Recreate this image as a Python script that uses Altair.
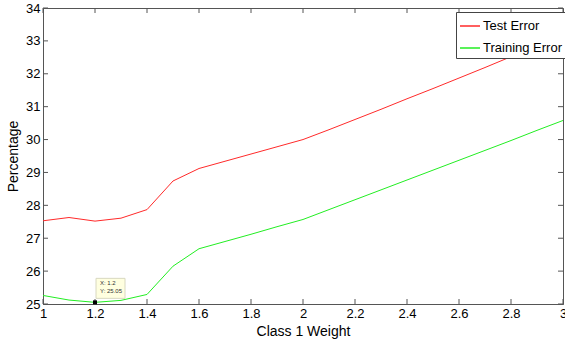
import altair as alt
import pandas as pd

weights = [1.0, 1.1, 1.2, 1.3, 1.4, 1.5, 1.6, 1.7, 1.8, 1.9, 2.0,
           2.1, 2.2, 2.3, 2.4, 2.5, 2.6, 2.7, 2.8, 2.9, 3.0]
test_error = [27.53, 27.63, 27.52, 27.61, 27.87, 28.74, 29.12, 29.34, 29.56, 29.78, 30.0,
              30.3, 30.61, 30.92, 31.24, 31.55, 31.87, 32.19, 32.52, 32.86, 33.2]
train_error = [25.26, 25.12, 25.05, 25.11, 25.29, 26.15, 26.68, 26.9, 27.12, 27.35, 27.57,
               27.87, 28.17, 28.47, 28.77, 29.07, 29.37, 29.67, 29.97, 30.28, 30.58]

x_ticks = [1.0, 1.2, 1.4, 1.6, 1.8, 2.0, 2.2, 2.4, 2.6, 2.8, 3.0]
y_ticks = [25, 26, 27, 28, 29, 30, 31, 32, 33, 34]
tip_x = [1.2]
tip_y = [25.05]

series = ["Test Error", "Training Error"]
colors = ["#ff2a2a", "#22ee22"]

W, H = 520, 296
FONT = "Liberation Sans"

rows = []
for w, t, tr in zip(weights, test_error, train_error):
    rows.append({"w": w, "v": t, "s": series[0]})
    rows.append({"w": w, "v": tr, "s": series[1]})
df = pd.DataFrame(rows)

xs = alt.Scale(domain=[1, 3], nice=False, zero=False)
ys = alt.Scale(domain=[25, 34], nice=False, zero=False)
xaxis = alt.Axis(values=x_ticks, format="~g", ticks=False, labelPadding=3,
                 labelFlush=False, labelOverlap=False, titlePadding=4, grid=False)
yaxis = alt.Axis(values=y_ticks, format="d", ticks=False, labelPadding=3,
                 labelFlush=False, labelOverlap=False, titlePadding=5, grid=False)
X = lambda: alt.X("w:Q", scale=xs, axis=xaxis, title="Class 1 Weight")
Y = lambda: alt.Y("v:Q", scale=ys, axis=yaxis, title="Percentage")

lines = alt.Chart(df).mark_line(strokeWidth=1).encode(
    x=X(), y=Y(),
    color=alt.Color("s:N", scale=alt.Scale(domain=series, range=colors),
                    legend=alt.Legend(title=None, orient="none", legendX=413, legendY=4,
                                      symbolSize=400, labelFontSize=13,
                                      labelFont=FONT, labelColor="black",
                                      labelOffset=2, rowPadding=4, padding=3,
                                      strokeColor="#444", fillColor="white")),
    order=alt.Order("w:Q"),
)

xt = pd.DataFrame({"w": x_ticks})
yt = pd.DataFrame({"v": y_ticks})
tick_color = "#555"
xb = alt.Chart(xt).mark_rule(color=tick_color).encode(x=X(), y=alt.value(H), y2=alt.value(H - 5))
xtop = alt.Chart(xt).mark_rule(color=tick_color).encode(x=X(), y=alt.value(0), y2=alt.value(5))
yl = alt.Chart(yt).mark_rule(color=tick_color).encode(y=Y(), x=alt.value(0), x2=alt.value(5))
yr = alt.Chart(yt).mark_rule(color=tick_color).encode(y=Y(), x=alt.value(W), x2=alt.value(W - 5))

tip = pd.DataFrame({"w": tip_x, "v": tip_y,
                    "lx": ["X: " + str(tip_x[0])], "ly": ["Y: " + f"{tip_y[0]:.2f}"]})
box = alt.Chart(tip).mark_rect(fill="#ffffe0", stroke="#d8d8c0", strokeWidth=1,
                               xOffset=1, x2Offset=30, yOffset=-24, y2Offset=-4).encode(
    x=X(), x2="w:Q", y=Y(), y2="v:Q")
t1 = alt.Chart(tip).mark_text(align="left", baseline="middle", fontSize=6, font=FONT,
                              dx=5, dy=-19, color="#333").encode(
    x=X(), y=Y(), text="lx:N")
t2 = alt.Chart(tip).mark_text(align="left", baseline="middle", fontSize=6, font=FONT,
                              dx=5, dy=-11, color="#333").encode(
    x=X(), y=Y(), text="ly:N")
marker = alt.Chart(tip).mark_square(size=16, color="black", opacity=1, filled=True).encode(
    x=X(), y=Y())

chart = alt.layer(lines, xb, xtop, yl, yr, box, t1, t2, marker).properties(
    width=W, height=H,
    autosize="none",
    padding={"left": 43, "top": 8, "right": 2, "bottom": 40},
    background="white",
).configure_view(stroke="#555", strokeWidth=1).configure_axis(
    domainColor="#555", labelFont=FONT, labelFontSize=13, labelColor="black",
    titleFont=FONT, titleFontSize=14, titleFontWeight="normal", titleColor="black",
)

chart.save("out.html", embed_options={"renderer": "svg", "actions": False})
